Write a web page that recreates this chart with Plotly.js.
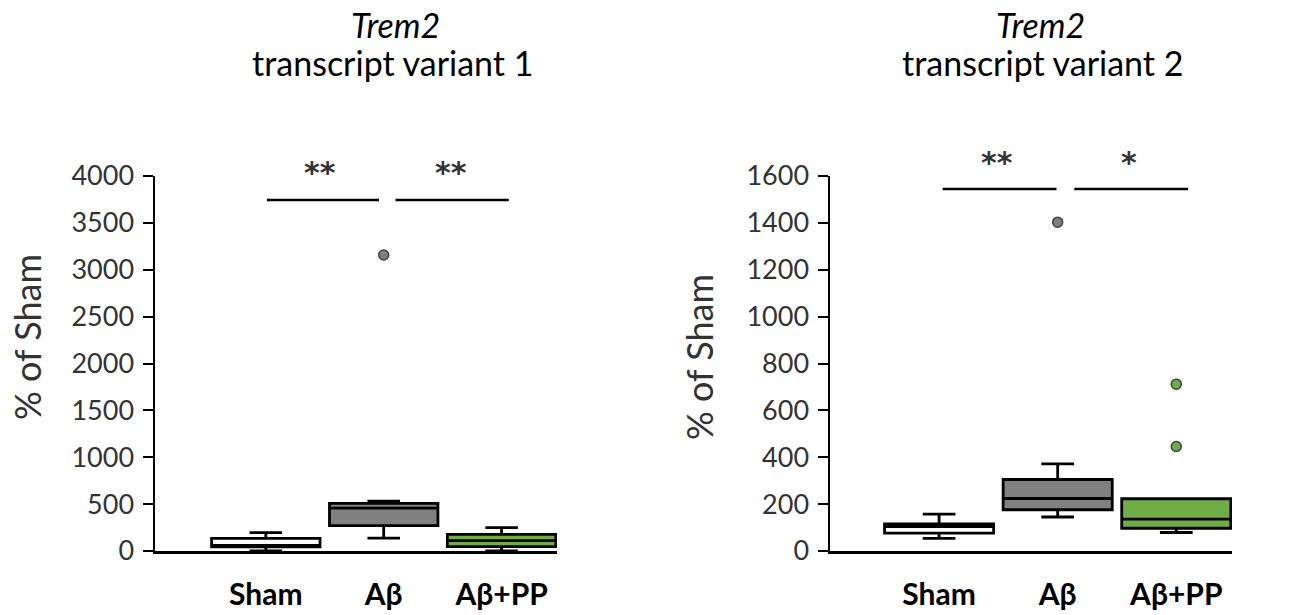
<!DOCTYPE html>
<html>
<head>
<meta charset="utf-8">
<script src="https://cdn.plot.ly/plotly-3.0.1.min.js"></script>
<style>
html,body{margin:0;padding:0;background:#fff;}
#chart{width:1294px;height:615px;}
</style>
</head>
<body>
<div id="chart"></div>
<script>
// ---- data ----
const categories = ['Sham', 'Aβ', 'Aβ+PP'];
const boxColors = ['#ffffff', '#808080', '#70ad47'];
const outlierColors = ['#ffffff', '#7f7f7f', '#70ad47'];

// Trem2 transcript variant 1 (% of Sham)
const v1_lower  = [0, 138, 0];
const v1_q1     = [45, 270, 46];
const v1_median = [60, 458, 110];
const v1_q3     = [135, 508, 178];
const v1_upper  = [195, 533, 249];
const v1_outliers = [[], [3157], []];

// Trem2 transcript variant 2 (% of Sham)
const v2_lower  = [54, 145, 79];
const v2_q1     = [76, 176, 97];
const v2_median = [104, 224, 136];
const v2_q3     = [116, 305, 223];
const v2_upper  = [157, 372, 223];
const v2_outliers = [[], [1403], [712, 446]];

const v1_ticks = [0, 500, 1000, 1500, 2000, 2500, 3000, 3500, 4000];
const v2_ticks = [0, 200, 400, 600, 800, 1000, 1200, 1400, 1600];

// ---- build ----
const W = 1294, H = 615;
const px = x => x / W;
const py = y => 1 - y / H;

function panelTraces(lower, q1, med, q3, upper, outliers, xa, ya) {
  const tr = [];
  categories.forEach((c, i) => {
    tr.push({
      type: 'box', x: [c], q1: [q1[i]], median: [med[i]], q3: [q3[i]],
      lowerfence: [lower[i]], upperfence: [upper[i]],
      fillcolor: boxColors[i], line: {color: '#000', width: 2.8},
      width: 0.92, whiskerwidth: 0.3, boxpoints: false,
      xaxis: xa, yaxis: ya, showlegend: false, hoverinfo: 'skip'
    });
    if (outliers[i].length) {
      tr.push({
        type: 'scatter', mode: 'markers',
        x: outliers[i].map(() => c), y: outliers[i],
        marker: {size: 10, color: outlierColors[i], line: {color: '#404040', width: 1.5}},
        xaxis: xa, yaxis: ya, showlegend: false, hoverinfo: 'skip'
      });
    }
  });
  return tr;
}

const data = [].concat(
  panelTraces(v1_lower, v1_q1, v1_median, v1_q3, v1_upper, v1_outliers, 'x', 'y'),
  panelTraces(v2_lower, v2_q1, v2_median, v2_q3, v2_upper, v2_outliers, 'x2', 'y2')
);

const FONT = 'Lato, "Open Sans", sans-serif';
function xaxisDef(domain, range, anchor) {
  return {
    domain: domain, range: range, type: 'category', anchor: anchor,
    categoryorder: 'array', categoryarray: categories,
    showline: true, linecolor: '#000', linewidth: 2.5, ticks: '',
    showgrid: false, zeroline: false, fixedrange: true,
    tickfont: {family: FONT, size: 30, color: '#000', weight: 'bold'},
    ticklabelstandoff: 15
  };
}
function yaxisDef(range, ticks, anchor) {
  return {
    domain: [py(551), py(176)], range: range, anchor: anchor,
    tickvals: ticks, ticktext: ticks.map(String),
    showline: true, linecolor: '#000', linewidth: 2.5,
    ticks: 'outside', ticklen: 10, tickwidth: 2, tickcolor: '#000',
    showgrid: false, zeroline: false, fixedrange: true,
    tickfont: {family: FONT, size: 27, color: '#333'},
    ticklabelstandoff: 3
  };
}

const layout = {
  width: W, height: H,
  margin: {l: 0, r: 0, t: 0, b: 0},
  paper_bgcolor: '#fff', plot_bgcolor: '#fff',
  showlegend: false,
  xaxis: xaxisDef([px(155), px(557)], [-0.94, 2.47], 'y'),
  yaxis: yaxisDef([0, 4000], v1_ticks, 'x'),
  xaxis2: xaxisDef([px(830), px(1232)], [-0.92, 2.47], 'y2'),
  yaxis2: yaxisDef([0, 1600], v2_ticks, 'x2'),
  shapes: [
    {type: 'line', xref: 'x', yref: 'y', x0: 0.01, x1: 0.96, y0: 3744, y1: 3744, line: {color: '#000', width: 2.5}},
    {type: 'line', xref: 'x', yref: 'y', x0: 1.10, x1: 2.06, y0: 3744, y1: 3744, line: {color: '#000', width: 2.5}},
    {type: 'line', xref: 'x2', yref: 'y2', x0: 0.03, x1: 0.99, y0: 1545, y1: 1545, line: {color: '#000', width: 2.5}},
    {type: 'line', xref: 'x2', yref: 'y2', x0: 1.14, x1: 2.10, y0: 1545, y1: 1545, line: {color: '#000', width: 2.5}}
  ],
  annotations: [
    {text: '<i>Trem2</i>', xref: 'paper', yref: 'paper', x: px(395), y: py(24), showarrow: false, xanchor: 'center', yanchor: 'middle', font: {family: FONT, size: 34, color: '#000'}},
    {text: 'transcript variant 1', xref: 'paper', yref: 'paper', x: px(392), y: py(62), showarrow: false, xanchor: 'center', yanchor: 'middle', font: {family: FONT, size: 34, color: '#000'}},
    {text: '<i>Trem2</i>', xref: 'paper', yref: 'paper', x: px(1040), y: py(24), showarrow: false, xanchor: 'center', yanchor: 'middle', font: {family: FONT, size: 34, color: '#000'}},
    {text: 'transcript variant 2', xref: 'paper', yref: 'paper', x: px(1042), y: py(62), showarrow: false, xanchor: 'center', yanchor: 'middle', font: {family: FONT, size: 34, color: '#000'}},
    {text: '% of Sham', xref: 'paper', yref: 'paper', x: px(27), y: py(337), textangle: -90, showarrow: false, xanchor: 'center', yanchor: 'middle', font: {family: FONT, size: 36, color: '#333'}},
    {text: '% of Sham', xref: 'paper', yref: 'paper', x: px(699), y: py(357), textangle: -90, showarrow: false, xanchor: 'center', yanchor: 'middle', font: {family: FONT, size: 36, color: '#333'}},
    {text: '**', xref: 'x', yref: 'paper', x: 0.46, y: py(172), showarrow: false, xanchor: 'center', yanchor: 'middle', font: {family: '"DejaVu Sans"', size: 30, color: '#333', weight: 'bold'}},
    {text: '**', xref: 'x', yref: 'paper', x: 1.57, y: py(172), showarrow: false, xanchor: 'center', yanchor: 'middle', font: {family: '"DejaVu Sans"', size: 30, color: '#333', weight: 'bold'}},
    {text: '**', xref: 'x2', yref: 'paper', x: 0.49, y: py(162), showarrow: false, xanchor: 'center', yanchor: 'middle', font: {family: '"DejaVu Sans"', size: 30, color: '#333', weight: 'bold'}},
    {text: '*', xref: 'x2', yref: 'paper', x: 1.60, y: py(162), showarrow: false, xanchor: 'center', yanchor: 'middle', font: {family: '"DejaVu Sans"', size: 30, color: '#333', weight: 'bold'}}
  ]
};

Plotly.newPlot('chart', data, layout, {staticPlot: true, displayModeBar: false});
</script>
</body>
</html>
